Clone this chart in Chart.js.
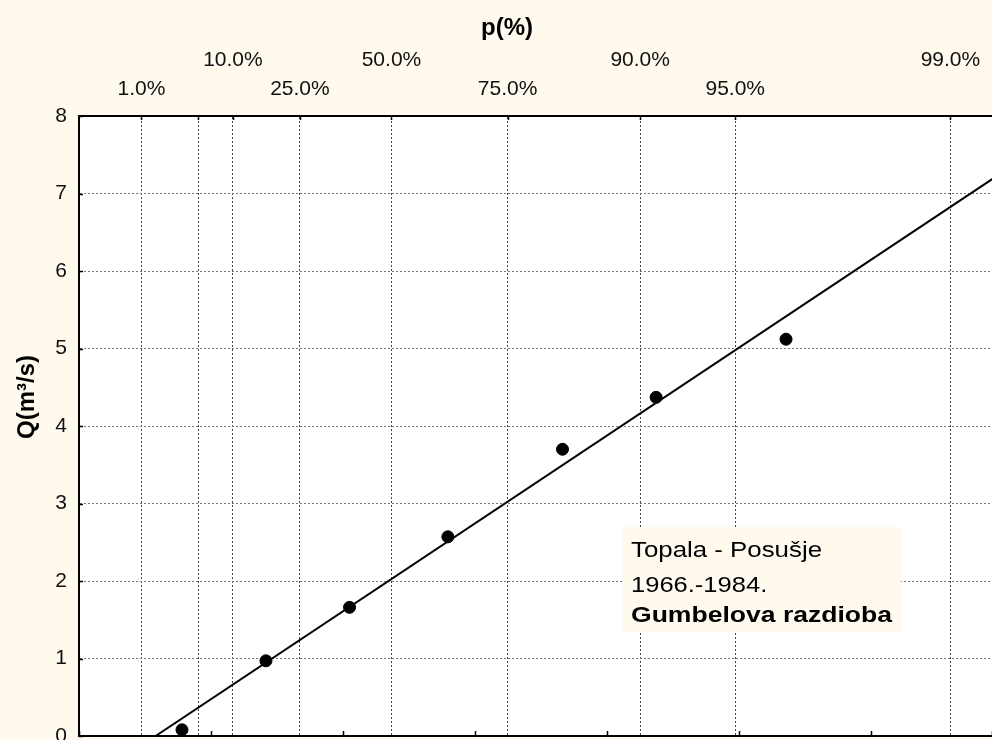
<!DOCTYPE html>
<html>
<head>
<meta charset="utf-8">
<script src="https://cdn.jsdelivr.net/npm/chart.js@4.4.0/dist/chart.umd.min.js"></script>
<style>
  html, body { margin: 0; padding: 0; background: #FFF9EE; overflow: hidden; }
  canvas { display: block; }
</style>
</head>
<body>
<canvas id="myChart" width="992" height="740"></canvas>
<script>
// x axis is the reduced Gumbel variate y = -ln(-ln p)
const pTicks = [1, 5, 10, 25, 50, 75, 90, 95, 99];
const pLabelsUpper = ['', '', '10.0%', '', '50.0%', '', '90.0%', '', '99.0%'];
const pLabelsLower = ['1.0%', '', '', '25.0%', '', '75.0%', '', '95.0%', ''];

// observed points (reduced variate, Q in m3/s)
const obsY = [-1.22, -0.584, 0.049, 0.794, 1.662, 2.371, 3.355];
const obsQ = [0.08, 0.97, 1.66, 2.57, 3.70, 4.37, 5.12];

// fitted Gumbel line
const fitY = [-1.42, 4.92];
const fitQ = [0, 7.19];

const noteLines = ['Topala - Posušje', '1966.-1984.', 'Gumbelova razdioba'];

const FONT = "'Liberation Sans', Arial, sans-serif";
const BG = '#FFF9EE';

Chart.defaults.font.family = FONT;
Chart.defaults.font.size = 21;
Chart.defaults.color = '#111';

const paperPlugin = {
    id: 'paper',
    beforeDraw(chart) {
        const { ctx, chartArea: a } = chart;
        ctx.save();
        ctx.fillStyle = BG;
        ctx.fillRect(0, 0, chart.width, chart.height);
        ctx.fillStyle = '#fff';
        ctx.fillRect(a.left, a.top, a.right - a.left, a.bottom - a.top);
        ctx.restore();
    },
    beforeDatasetsDraw(chart) {
        // text box
        const { ctx } = chart;
        ctx.save();
        ctx.fillStyle = BG;
        ctx.fillRect(623, 527, 278, 105);
        ctx.fillStyle = '#000';
        ctx.textBaseline = 'alphabetic';
        const baselines = [557, 592, 622];
        noteLines.forEach((txt, i) => {
            ctx.save();
            ctx.font = (i === 2 ? 'bold ' : '') + '22px ' + FONT;
            ctx.translate(631, baselines[i]);
            const w = ctx.measureText(txt).width;
            const target = i === 0 ? 191 : (i === 1 ? 0 : 261);
            const sx = target ? target / w : 1.16;
            ctx.scale(sx, 1);
            ctx.fillText(txt, 0, 0);
            ctx.restore();
        });
        ctx.restore();
    },
    afterDraw(chart) {
        const { ctx, chartArea: a, scales } = chart;
        ctx.save();
        ctx.strokeStyle = '#000';
        ctx.lineWidth = 1.5;
        ctx.beginPath();
        scales.x.ticks.forEach(t => {
            const px = Math.round(scales.x.getPixelForValue(t.value)) + 0.5;
            ctx.moveTo(px, a.bottom);
            ctx.lineTo(px, a.bottom - 5);
        });
        scales.x2.ticks.forEach(t => {
            const px = Math.round(scales.x2.getPixelForValue(t.value)) + 0.5;
            ctx.moveTo(px, a.top);
            ctx.lineTo(px, a.top + 4);
        });
        scales.y.ticks.forEach(t => {
            const py = Math.round(scales.y.getPixelForValue(t.value)) + 0.5;
            ctx.moveTo(a.left, py);
            ctx.lineTo(a.left + 4, py);
        });
        ctx.stroke();

        // titles
        ctx.fillStyle = '#000';
        ctx.font = 'bold 24px ' + FONT;
        ctx.textAlign = 'center';
        ctx.textBaseline = 'middle';
        ctx.fillText('p(%)', 507, 28);
        ctx.translate(27, 397);
        ctx.rotate(-Math.PI / 2);
        ctx.fillText('Q(m³/s)', 0, 0);
        ctx.restore();
    }
};

const ctx = document.getElementById('myChart').getContext('2d');
new Chart(ctx, {
    type: 'scatter',
    data: {
        datasets: [
            {
                label: 'fit',
                type: 'line',
                data: fitY.map((v, i) => ({ x: v, y: fitQ[i] })),
                borderColor: '#000',
                borderWidth: 2,
                pointRadius: 0,
                fill: false,
                xAxisID: 'x',
                yAxisID: 'y'
            },
            {
                label: 'Q',
                data: obsY.map((v, i) => ({ x: v, y: obsQ[i] })),
                backgroundColor: '#000',
                borderColor: '#000',
                pointRadius: 6,
                xAxisID: 'x',
                yAxisID: 'y'
            }
        ]
    },
    options: {
        responsive: false,
        animation: false,
        devicePixelRatio: 1,
        layout: { padding: 0, autoPadding: false },
        plugins: {
            legend: { display: false },
            tooltip: { enabled: false }
        },
        scales: {
            x: {
                type: 'linear',
                position: 'bottom',
                min: -2,
                max: 4.915,
                ticks: { display: false, stepSize: 1 },
                grid: { display: false },
                border: { display: true, color: '#000', width: 2 },
                afterFit: s => { s.height = 4; s.paddingLeft = 0; s.paddingRight = 0; }
            },
            x2: {
                type: 'linear',
                position: 'top',
                min: -2,
                max: 4.915,
                afterBuildTicks: s => {
                    s.ticks = pTicks.map(p => ({ value: -Math.log(-Math.log(p / 100)) }));
                },
                ticks: {
                    padding: 12,
                    autoSkip: false,
                    maxRotation: 0,
                    font: { size: 21, lineHeight: 1.38 },
                    callback: (v, i) => [pLabelsUpper[i], pLabelsLower[i]]
                },
                grid: { color: '#444', lineWidth: 1, drawTicks: false },
                border: { display: true, color: '#000', width: 2, dash: [2, 2] },
                afterFit: s => { s.height = 116; s.paddingLeft = 0; s.paddingRight = 0; }
            },
            y: {
                type: 'linear',
                min: 0,
                max: 8,
                ticks: { stepSize: 1, padding: 12, font: { size: 21 } },
                grid: { color: '#777', lineWidth: 1, drawTicks: false },
                border: { display: true, color: '#000', width: 2, dash: [2, 2] },
                afterFit: s => { s.width = 79; s.paddingTop = 0; s.paddingBottom = 0; }
            }
        }
    },
    plugins: [paperPlugin]
});
</script>
</body>
</html>
